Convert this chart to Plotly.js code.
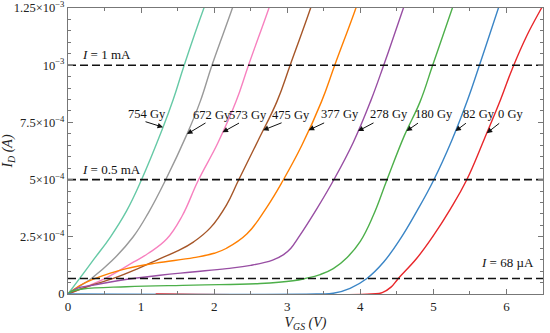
<!DOCTYPE html>
<html>
<head>
<meta charset="utf-8">
<script src="https://cdn.plot.ly/plotly-3.0.1.min.js"></script>
<style>html,body{margin:0;padding:0;background:#fff;}#chart{width:550px;height:333px;}</style>
</head>
<body>
<div id="chart"></div>
<script>
// ---- data (V_GS in volts, I_D in amperes) ----
const doses = ["754 Gy", "672 Gy", "573 Gy", "475 Gy", "377 Gy", "278 Gy", "180 Gy", "82 Gy", "0 Gy"];

const v754 = [0, 0.16, 0.35, 0.58, 0.8, 1.0, 1.29, 1.44, 1.59, 1.86, 1.92];
const i754 = [0, 6.8e-5, 1.5e-4, 2.49e-4, 3.62e-4, 4.95e-4, 7.2e-4, 8.5e-4, 1.0e-3, 1.25e-3, 1.3e-3];

const v672 = [0, 0.15, 0.32, 0.6, 0.89, 1.1, 1.33, 1.63, 1.81, 1.97, 2.25, 2.3];
const i672 = [0, 3.2e-5, 6.8e-5, 1.45e-4, 2.49e-4, 3.55e-4, 4.95e-4, 7.0e-4, 8.42e-4, 1.0e-3, 1.25e-3, 1.3e-3];

const v573 = [0, 0.25, 0.51, 0.9, 1.1, 1.35, 1.56, 1.78, 2.05, 2.30, 2.47, 2.75, 2.8];
const i573 = [0, 3.2e-5, 6.8e-5, 1.4e-4, 1.78e-4, 2.4e-4, 3.4e-4, 4.95e-4, 6.6e-4, 8.42e-4, 1.0e-3, 1.25e-3, 1.3e-3];

const v475 = [0, 0.3, 0.62, 0.95, 1.26, 1.5, 1.72, 1.95, 2.17, 2.33, 2.6, 2.86, 3.04, 3.32, 3.37];
const i475 = [0, 3.6e-5, 6.8e-5, 1.1e-4, 1.55e-4, 1.88e-4, 2.28e-4, 2.9e-4, 3.9e-4, 4.95e-4, 6.7e-4, 8.42e-4, 1.0e-3, 1.25e-3, 1.3e-3];

const v377 = [0, 0.15, 0.35, 0.55, 0.8, 1.2, 1.72, 2.0, 2.17, 2.45, 2.72, 2.94, 3.2, 3.47, 3.65, 3.94, 3.99];
const i377 = [0, 3.5e-5, 6.5e-5, 8.8e-5, 1.11e-4, 1.35e-4, 1.59e-4, 1.78e-4, 2.0e-4, 2.63e-4, 3.79e-4, 4.95e-4, 6.5e-4, 8.42e-4, 1.0e-3, 1.25e-3, 1.3e-3];

const v278 = [0, 0.12, 0.35, 0.7, 1.26, 1.7, 2.17, 2.5, 2.8, 2.95, 3.05, 3.15, 3.4, 3.63, 3.9, 4.14, 4.32, 4.59, 4.64];
const i278 = [0, 2.5e-5, 3.9e-5, 5.9e-5, 8.2e-5, 9.6e-5, 1.11e-4, 1.25e-4, 1.48e-4, 1.72e-4, 2.0e-4, 2.45e-4, 3.7e-4, 4.95e-4, 6.6e-4, 8.42e-4, 1.0e-3, 1.25e-3, 1.3e-3];

const v180 = [0, 0.05, 0.2, 0.8, 1.72, 2.63, 3.08, 3.25, 3.45, 3.63, 3.82, 4.0, 4.18, 4.36, 4.6, 4.82, 4.99, 5.26, 5.31];
const i180 = [0, 1.2e-5, 2.2e-5, 3.2e-5, 3.9e-5, 4.6e-5, 5.8e-5, 6.8e-5, 8.5e-5, 1.11e-4, 1.6e-4, 2.3e-4, 3.45e-4, 4.95e-4, 6.9e-4, 8.42e-4, 1.0e-3, 1.25e-3, 1.3e-3];

const v82 = [0, 3.4, 3.63, 3.86, 4.09, 4.32, 4.55, 4.77, 5.0, 5.25, 5.47, 5.62, 5.89, 5.94];
const i82 = [0, 0, 3e-6, 2.5e-5, 6.8e-5, 1.4e-4, 2.42e-4, 3.6e-4, 4.95e-4, 6.7e-4, 8.5e-4, 9.9e-4, 1.25e-3, 1.3e-3];

const v0 = [1.2, 4.15, 4.3, 4.42, 4.52, 4.77, 5.0, 5.23, 5.45, 5.7, 5.92, 6.08, 6.28, 6.48, 6.55];
const i0 = [0, 0, 6e-6, 3e-5, 6.8e-5, 1.55e-4, 2.55e-4, 3.7e-4, 4.95e-4, 6.8e-4, 8.5e-4, 9.85e-4, 1.13e-3, 1.25e-3, 1.29e-3];

// reference current levels
const refLevels = [1.0e-3, 5.0e-4, 6.8e-5];
const refLabels = ["<i>I</i> = 1 mA", "<i>I</i> = 0.5 mA", "<i>I</i> = 68 µA"];

// current at which each dose label arrow touches its curve
const arrowCurrents = [7.29e-4, 6.99e-4, 7.07e-4, 7.16e-4, 7.16e-4, 7.12e-4, 7.12e-4, 7.12e-4, 7.03e-4];

// axis ticks
const yTickVals = [0, 2.5e-4, 5e-4, 7.5e-4, 1e-3, 1.25e-3];
const yTickText = ["0", "2.5×10<sup>−4</sup>", "5×10<sup>−4</sup>", "7.5×10<sup>−4</sup>", "10<sup>−3</sup>", "1.25×10<sup>−3</sup>"];
const xTickVals = [0, 1, 2, 3, 4, 5, 6];

// ---- styling ----
const FONT = "Liberation Serif, Times New Roman, serif";
const colors = ["#66c9a6", "#999999", "#f781bf", "#a65628", "#ff7f00", "#984ea3", "#4daf4a", "#3a85c6", "#e8262a"];
const seriesV = [v754, v672, v573, v475, v377, v278, v180, v82, v0];
const seriesI = [i754, i672, i573, i475, i377, i278, i180, i82, i0];

// label layout (pixel offsets relative to arrow tip)
const textShift = [[-16, 13], [25, 19], [25, 17], [28, 15], [31, 16], [31, 17], [28, 17], [24, 17], [24, 19]];
const arrowTail = [[-19, -6], [20, -12], [18, -10], [20, -8], [17, -8], [17, -9], [13, -9], [12, -9], [14, -11]];

function interpV(vs, is, target) {
  for (let k = 1; k < is.length; k++) {
    if (is[k - 1] <= target && is[k] >= target && is[k] > is[k - 1]) {
      const t = (target - is[k - 1]) / (is[k] - is[k - 1]);
      return vs[k - 1] + t * (vs[k] - vs[k - 1]);
    }
  }
  return vs[vs.length - 1];
}

const traces = [];
for (let s = 0; s < doses.length; s++) {
  traces.push({
    x: seriesV[s], y: seriesI[s], type: "scatter", mode: "lines", name: doses[s],
    line: {color: colors[s], width: 1.4, shape: "spline", smoothing: 1.2},
    showlegend: false, hoverinfo: "skip"
  });
}
const xMax = 6.5;
const yMax = 1.25e-3;
refLevels.forEach(function (lv) {
  traces.push({
    x: [0, xMax], y: [lv, lv], type: "scatter", mode: "lines",
    line: {color: "#111", width: 1.6, dash: "8px,4px"},
    showlegend: false, hoverinfo: "skip"
  });
});

const annotations = [];
for (let s = 0; s < doses.length; s++) {
  const tipV = interpV(seriesV[s], seriesI[s], arrowCurrents[s]);
  annotations.push({
    x: tipV, y: arrowCurrents[s], xref: "x", yref: "y", text: "",
    showarrow: true, arrowhead: 2, arrowsize: 1.1, arrowwidth: 1, arrowcolor: "#111",
    ax: arrowTail[s][0], ay: arrowTail[s][1], standoff: 0
  });
  annotations.push({
    x: tipV, y: arrowCurrents[s], xref: "x", yref: "y", text: doses[s],
    showarrow: false, xshift: textShift[s][0], yshift: textShift[s][1],
    font: {family: FONT, size: 12.5, color: "#111"}
  });
}
// reference-level labels
const refLabelPos = [[0.16, "left"], [0.16, "left"], [6.40, "right"]];
const refLabelDy = [1, 1, 6];
for (let r = 0; r < refLevels.length; r++) {
  annotations.push({
    x: refLabelPos[r][0], y: refLevels[r], xref: "x", yref: "y",
    text: refLabels[r], showarrow: false, xanchor: refLabelPos[r][1], yanchor: "bottom",
    yshift: refLabelDy[r],
    font: {family: FONT, size: 13, color: "#111"}
  });
}

const axisCommon = {
  showline: true, linecolor: "#777", linewidth: 1, mirror: "ticks",
  ticks: "inside", ticklen: 5, tickcolor: "#777", tickwidth: 1,
  showgrid: false, zeroline: false, ticklabeloverflow: "allow",
  tickfont: {family: FONT, size: 13, color: "#222"}
};

const layout = {
  width: 550, height: 333,
  margin: {l: 68, r: 7, t: 8, b: 39},
  paper_bgcolor: "#fff", plot_bgcolor: "#fff",
  font: {family: FONT, color: "#222"},
  xaxis: Object.assign({}, axisCommon, {
    range: [0, xMax], tickvals: xTickVals, ticktext: xTickVals.map(String),
    minor: {dtick: 0.5, ticks: "inside", ticklen: 3, tickcolor: "#777"},
    title: {text: "<i>V<sub>GS</sub> (V)</i>", font: {family: FONT, size: 14, color: "#222"}, standoff: 4}
  }),
  yaxis: Object.assign({}, axisCommon, {
    range: [0, yMax * 1.0001], tickvals: yTickVals, ticktext: yTickText,
    minor: {dtick: 5e-5, ticks: "inside", ticklen: 3, tickcolor: "#777"},
    tickfont: {family: FONT, size: 12.5, color: "#222"},
    title: {text: "<i>I<sub>D</sub> (A)</i>", font: {family: FONT, size: 14, color: "#222"}, standoff: 6}
  }),
  annotations: annotations
};

Plotly.newPlot("chart", traces, layout, {staticPlot: true, displayModeBar: false});
</script>
</body>
</html>
